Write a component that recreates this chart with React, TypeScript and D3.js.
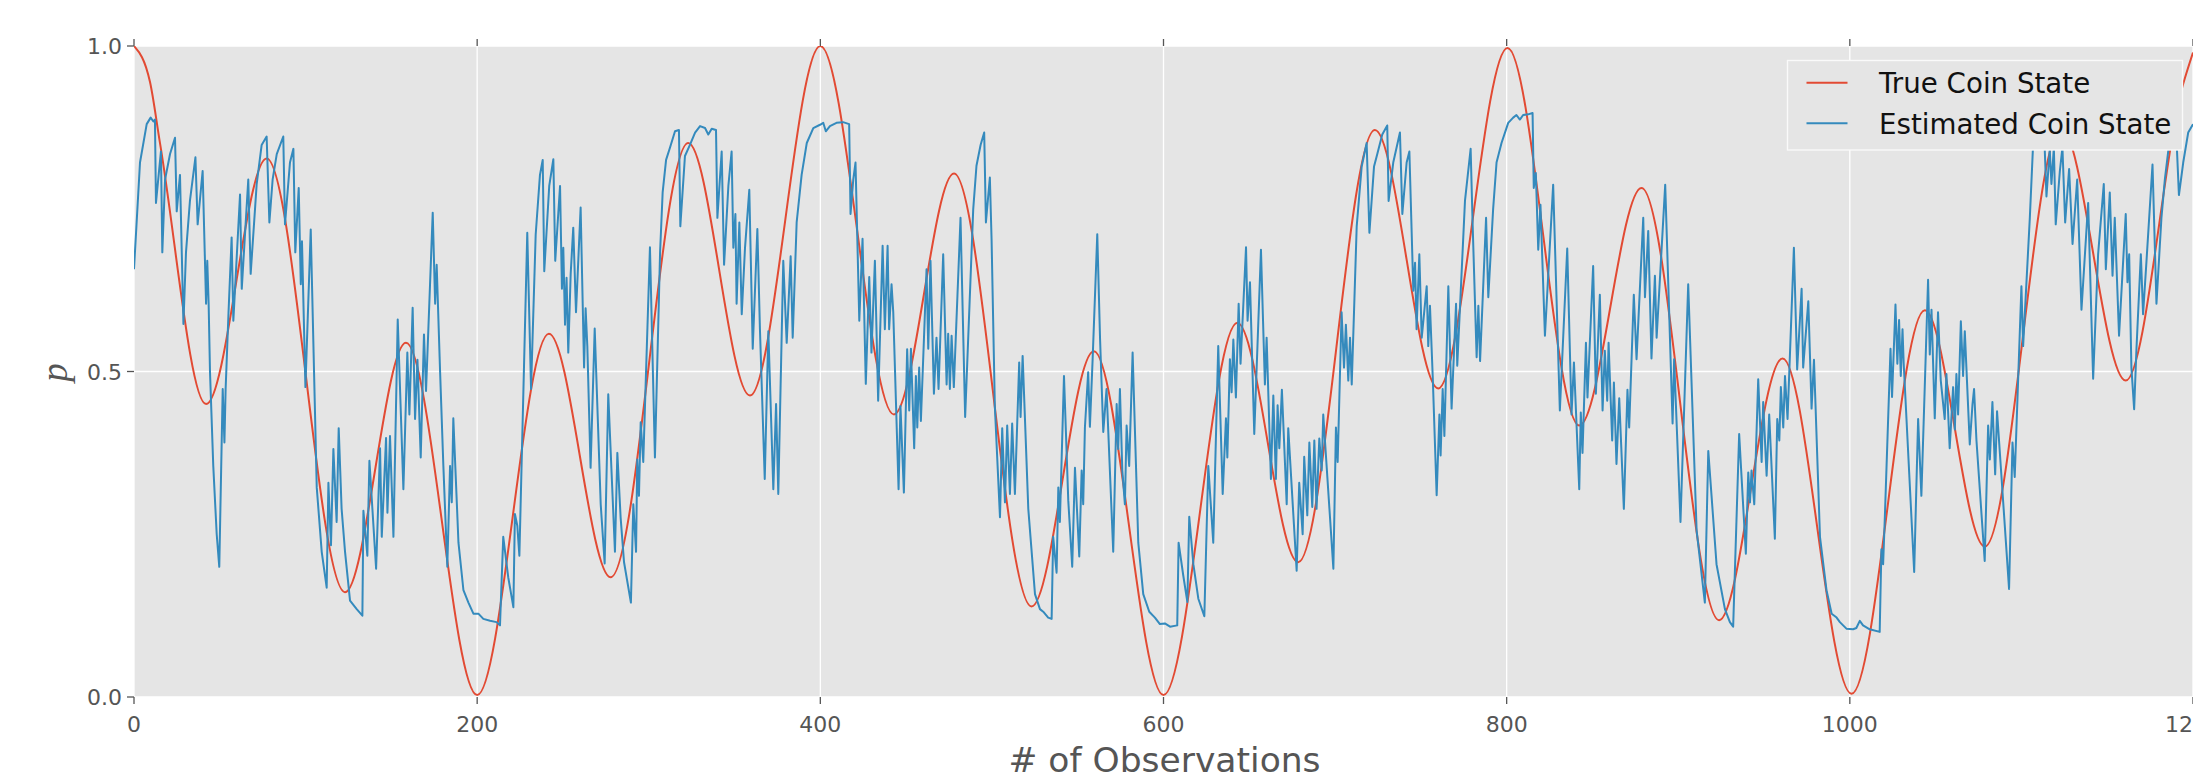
import React from 'react';
import * as d3 from 'd3';

// axis ticks
const xTicks = [0, 200, 400, 600, 800, 1000, 1200];
const xTickLabels = ['0', '200', '400', '600', '800', '1000', '1200'];
const yTicks = [0, 0.5, 1.0];
const yTickLabels = ['0.0', '0.5', '1.0'];

const trueCoin = [
  [0, 1.0], [9.3, 0.945], [15.2, 0.85], [42, 0.45], [77.3, 0.827], [123, 0.161], [158.5, 0.544],
  [200, 0.003], [241.8, 0.558], [277.8, 0.184], [323, 0.851], [359, 0.463],
  [400, 1.0], [442.9, 0.434], [477.9, 0.804], [523.1, 0.139], [559.4, 0.531],
  [600, 0.003], [643, 0.575], [678.5, 0.207], [723.2, 0.871], [760.1, 0.474],
  [800.5, 0.997], [842.3, 0.417], [878.6, 0.782], [923.8, 0.118], [960.8, 0.52],
  [1001, 0.005], [1043.7, 0.594], [1078.7, 0.231], [1123, 0.875], [1160.8, 0.486],
  [1194.3, 0.942], [1200, 0.99],
];

// estimated coin state, split in blocks of ~200 observations
const est0 = [
  [0, 0.657], [3.5, 0.821], [7.4, 0.88], [9.7, 0.89], [11.3, 0.884], [12.2, 0.887], [12.8, 0.759],
  [15.7, 0.838], [16.5, 0.683], [18.1, 0.795], [21, 0.834], [23.9, 0.859], [24.9, 0.746], [26.8, 0.802],
  [28.8, 0.573], [30.3, 0.683], [32.6, 0.762], [35.8, 0.829], [37.1, 0.726], [40, 0.808], [42, 0.604],
  [42.7, 0.67], [43.5, 0.604], [44.3, 0.499], [46.2, 0.355], [48.2, 0.25], [49.7, 0.2], [51.7, 0.473],
  [52.7, 0.391], [53.4, 0.473], [55, 0.585], [56.9, 0.706], [57.9, 0.578], [61.8, 0.772], [62.8, 0.627],
  [66.6, 0.795], [68, 0.65], [71.5, 0.788], [74.4, 0.848], [77.3, 0.861], [78.9, 0.729], [80.8, 0.795],
  [83.2, 0.834], [87, 0.861], [88, 0.726], [90.9, 0.821], [92.9, 0.842], [94, 0.683], [96, 0.782],
  [97.2, 0.634], [97.9, 0.7], [99.9, 0.476], [103, 0.718], [106.5, 0.322], [109.4, 0.223], [112.3, 0.168],
  [113.3, 0.329], [114.8, 0.233], [116.2, 0.381], [118.1, 0.269], [119.3, 0.413], [121, 0.289], [123, 0.223],
  [125.9, 0.148], [129.8, 0.135], [133.1, 0.125], [133.7, 0.286], [136, 0.217], [137.2, 0.363], [141.1, 0.197],
  [143.4, 0.382], [144.4, 0.246], [146.9, 0.398], [147.7, 0.283], [149.2, 0.401], [151.2, 0.246], [153.7, 0.58],
  [157, 0.319], [159.3, 0.529], [160.5, 0.434], [162.4, 0.598], [163.8, 0.427], [165.2, 0.518], [167.1, 0.368],
  [169, 0.557], [170.2, 0.47], [174.1, 0.744], [175.5, 0.604], [176.4, 0.664], [178.4, 0.499], [180.3, 0.355],
  [182.6, 0.2], [184.2, 0.355], [185.2, 0.299], [186.1, 0.428], [189.1, 0.237], [192, 0.164], [194.9, 0.145],
  [197.8, 0.128],
];
const est200 = [
  [200.7, 0.128], [203.6, 0.12], [207.5, 0.117], [211.3, 0.115], [213.3, 0.11], [215.2, 0.246], [218.1, 0.184],
  [221.1, 0.138], [222, 0.281], [223.4, 0.263], [224.6, 0.217], [229.2, 0.713], [231.4, 0.473], [234.1, 0.71],
  [236.6, 0.802], [238.2, 0.825], [239.1, 0.654], [242, 0.785], [244.4, 0.826], [245.5, 0.67], [248.3, 0.785],
  [249.4, 0.627], [250.2, 0.69], [251.2, 0.572], [252.1, 0.644], [253.1, 0.529], [254.5, 0.65], [256, 0.721],
  [257.6, 0.591], [260.3, 0.752], [262.3, 0.506], [263.2, 0.597], [264.2, 0.539], [266.1, 0.352], [268.5, 0.566],
  [272, 0.296], [274.3, 0.205], [276.4, 0.465], [280.3, 0.223], [281.7, 0.375], [283.6, 0.276], [285.6, 0.207],
  [289.6, 0.145], [291, 0.296], [292.6, 0.223], [293.3, 0.365], [294.3, 0.309], [295.3, 0.422], [296.8, 0.361],
  [297.8, 0.447], [300.7, 0.691], [303.6, 0.368], [306.6, 0.683], [308.1, 0.775], [310.1, 0.825], [312.4, 0.844],
  [315.3, 0.869], [317.6, 0.871], [318.4, 0.723], [321.1, 0.831], [324, 0.848], [327, 0.867], [329.9, 0.877],
  [332.8, 0.874], [334.7, 0.864], [336.7, 0.873], [339.2, 0.871], [340, 0.736], [342.5, 0.838], [343.9, 0.664],
  [346.4, 0.785], [348.3, 0.838], [349.3, 0.69], [350.5, 0.742], [351.2, 0.604], [352.8, 0.729], [354.2, 0.588],
  [356.1, 0.69], [358.6, 0.779], [360.6, 0.535], [363.3, 0.719], [364.8, 0.565], [367.6, 0.335], [369.7, 0.562],
  [372.6, 0.319], [374.2, 0.45], [375.5, 0.312], [378.4, 0.67], [380.4, 0.544], [382.7, 0.677], [383.9, 0.552],
  [386.2, 0.729], [389.1, 0.802], [392.1, 0.851], [395.9, 0.874],
];
const est400 = [
  [399.8, 0.879], [401.7, 0.882], [403.2, 0.869], [405.6, 0.877], [409.4, 0.882], [413.3, 0.883], [416.8, 0.88],
  [417.6, 0.742], [419.2, 0.795], [420.5, 0.821], [422.7, 0.578], [424.6, 0.704], [426.5, 0.481], [428.5, 0.645],
  [429.8, 0.529], [431.8, 0.67], [433.7, 0.455], [436.3, 0.693], [437.6, 0.565], [439.2, 0.693], [440.1, 0.565],
  [441.5, 0.634], [442.5, 0.591], [445.6, 0.319], [446.7, 0.447], [448.7, 0.314], [450.6, 0.534], [451.8, 0.44],
  [452.8, 0.535], [454.7, 0.382], [455.7, 0.493], [456.5, 0.414], [457.6, 0.506], [458.6, 0.424], [461.9, 0.657],
  [462.9, 0.535], [464.2, 0.67], [466.2, 0.466], [467.7, 0.552], [468.9, 0.473], [471.6, 0.68], [473.6, 0.48],
  [474.5, 0.558], [475.5, 0.473], [476.5, 0.555], [477.8, 0.476], [481.7, 0.736], [484.4, 0.43], [489.1, 0.749],
  [491, 0.816], [493.4, 0.848], [495.5, 0.867], [496.5, 0.729], [498.8, 0.798], [499.8, 0.703], [501.7, 0.447],
  [504.7, 0.276], [506, 0.413], [507.6, 0.299], [508.9, 0.417], [510.5, 0.312], [511.8, 0.42], [513.4, 0.312],
  [515.9, 0.514], [516.7, 0.43], [517.9, 0.524], [521.2, 0.289], [525.1, 0.158], [528, 0.135], [529.9, 0.131],
  [532.8, 0.122], [534.8, 0.12], [535.7, 0.246], [537.7, 0.191], [538.7, 0.322], [539.6, 0.269], [542, 0.493],
  [544.5, 0.302], [546.8, 0.2], [548.4, 0.352], [550.9, 0.216], [552.3, 0.348], [553.2, 0.296], [554.2, 0.414],
  [556.1, 0.499], [557.1, 0.415], [558.7, 0.519], [561.4, 0.711], [563, 0.552], [564.9, 0.407], [566.8, 0.473],
  [570.7, 0.223], [572.7, 0.45], [573.6, 0.381], [574.6, 0.473], [576, 0.348], [577.5, 0.296], [578.5, 0.417],
  [580, 0.355], [582, 0.529], [585.3, 0.237], [588.2, 0.158], [591.7, 0.131], [595, 0.122], [597.9, 0.112],
];
const est600 = [
  [600.8, 0.113], [603.8, 0.108], [608, 0.11], [608.8, 0.237], [611.5, 0.187], [613.9, 0.146], [615, 0.277],
  [617.4, 0.204], [620.3, 0.151], [623.8, 0.124], [626.1, 0.355], [629, 0.237], [631.9, 0.539], [634.5, 0.312],
  [636.4, 0.428], [637.2, 0.368], [638.7, 0.519], [639.7, 0.468], [640.7, 0.549], [642.2, 0.46], [643.8, 0.604],
  [644.9, 0.512], [648.1, 0.691], [649, 0.578], [650.4, 0.637], [652.9, 0.404], [656.8, 0.687], [659.1, 0.48],
  [660.1, 0.552], [662.6, 0.335], [664, 0.463], [665.5, 0.335], [666.5, 0.448], [667.5, 0.382], [669, 0.472],
  [671.8, 0.296], [672.7, 0.413], [677.6, 0.194], [679.1, 0.329], [681.1, 0.25], [682, 0.369], [683.8, 0.279],
  [685, 0.391], [686.7, 0.292], [687.9, 0.394], [689.2, 0.289], [690.8, 0.397], [692.2, 0.348], [693.1, 0.434],
  [699, 0.197], [700.5, 0.414], [701.5, 0.361], [703.8, 0.591], [705.2, 0.506], [706.3, 0.572], [707.7, 0.486],
  [708.7, 0.552], [709.7, 0.48], [712.6, 0.723], [715.5, 0.815], [718.4, 0.851], [720, 0.713], [722.7, 0.815],
  [724.6, 0.834], [727.5, 0.864], [730.4, 0.878], [731.2, 0.762], [733.9, 0.821], [737.8, 0.867], [739.2, 0.742],
  [741.7, 0.821], [743.3, 0.838], [745.6, 0.624], [746.6, 0.667], [747.5, 0.565], [749.1, 0.68], [750.5, 0.552],
  [753.4, 0.631], [754.3, 0.539], [755.3, 0.601], [756.9, 0.493], [759.2, 0.31], [760.8, 0.434], [761.5, 0.371],
  [762.7, 0.473], [763.7, 0.401], [766, 0.631], [767.9, 0.443], [770.5, 0.604], [771.2, 0.509], [775.7, 0.762],
  [779, 0.842], [780.2, 0.723], [782.5, 0.522], [783.5, 0.601], [784.5, 0.516], [788, 0.736], [789.3, 0.614],
  [792.1, 0.749], [794.1, 0.821],
];
const est800 = [
  [797, 0.851], [800.9, 0.882], [803.8, 0.89], [805.7, 0.894], [807.7, 0.887], [809.6, 0.894], [812.5, 0.895],
  [815.1, 0.897], [815.8, 0.782], [817, 0.805], [818.4, 0.687], [819.7, 0.756], [822.3, 0.555], [827.1, 0.787],
  [831, 0.44], [835.3, 0.689], [837.8, 0.434], [839.2, 0.514], [842.3, 0.319], [843.2, 0.437], [844.2, 0.375],
  [846.2, 0.544], [847.1, 0.46], [850.4, 0.662], [852, 0.466], [854.3, 0.618], [855.9, 0.44], [857.2, 0.532],
  [858.6, 0.455], [859.4, 0.544], [861.5, 0.394], [862.5, 0.483], [864, 0.358], [865.6, 0.459], [868.3, 0.289],
  [870.4, 0.472], [871.4, 0.414], [874.1, 0.618], [875.7, 0.519], [879.6, 0.736], [880.6, 0.614], [882.5, 0.716],
  [884.4, 0.52], [886.4, 0.647], [887.4, 0.552], [892.4, 0.787], [896.7, 0.42], [897.6, 0.519], [901.3, 0.269],
  [905.8, 0.634], [910.7, 0.256], [915.5, 0.145], [917.5, 0.378], [922.3, 0.204], [927.2, 0.135], [930.1, 0.115],
  [932, 0.108], [935.5, 0.404], [939.4, 0.22], [940.8, 0.345], [941.8, 0.299], [942.7, 0.348], [944.3, 0.296],
  [946.6, 0.488], [948.6, 0.361], [949.5, 0.453], [951.5, 0.34], [953, 0.434], [956.3, 0.243], [957.7, 0.427],
  [958.9, 0.394], [959.8, 0.476], [961.2, 0.414], [962.2, 0.493], [963.7, 0.427], [967.4, 0.69], [969.3, 0.503],
  [971.9, 0.627], [972.8, 0.506], [975.8, 0.608], [977.7, 0.443], [979.1, 0.518], [982.6, 0.246], [986.4, 0.164],
  [989.4, 0.128], [992.3, 0.122], [994.2, 0.115], [998, 0.105],
];
const est1000 = [
  [1001.9, 0.104], [1003.8, 0.106], [1005.8, 0.117], [1007.7, 0.11], [1011.6, 0.104], [1017.4, 0.1],
  [1018.4, 0.227], [1019.4, 0.204], [1020.4, 0.276], [1023.7, 0.535], [1024.6, 0.461], [1026.6, 0.603],
  [1027.7, 0.512], [1028.7, 0.579], [1029.7, 0.493], [1030.7, 0.565], [1031.4, 0.512], [1037.5, 0.192],
  [1039.8, 0.427], [1041.7, 0.309], [1045.6, 0.641], [1046.6, 0.526], [1047.6, 0.595], [1049.5, 0.428],
  [1051.4, 0.591], [1053, 0.486], [1055.3, 0.427], [1056.3, 0.496], [1058.2, 0.382], [1060.2, 0.476],
  [1061.2, 0.411], [1062.1, 0.496], [1063.1, 0.434], [1064.7, 0.577], [1066, 0.493], [1067, 0.562],
  [1069.9, 0.388], [1071.5, 0.45], [1072.4, 0.473], [1073.8, 0.394], [1078.6, 0.209], [1080.6, 0.417],
  [1081.6, 0.365], [1083.1, 0.453], [1084.7, 0.342], [1085.8, 0.439], [1092.8, 0.166], [1094.8, 0.391],
  [1096.1, 0.338], [1100, 0.631], [1101, 0.539], [1104.9, 0.736], [1107, 0.86], [1109, 0.88], [1111, 0.885],
  [1113.6, 0.841], [1114.6, 0.769], [1116.5, 0.841], [1117.5, 0.788], [1118.9, 0.844], [1120, 0.726],
  [1122.4, 0.808], [1123.9, 0.844], [1125.5, 0.729], [1127.8, 0.811], [1129.8, 0.696], [1132.5, 0.795],
  [1135, 0.595], [1138.9, 0.759], [1141.8, 0.489], [1144.7, 0.68], [1148, 0.788], [1149.2, 0.657],
  [1151.5, 0.775], [1153.1, 0.647], [1154.4, 0.736], [1155.8, 0.634], [1156.9, 0.555], [1160.8, 0.742],
  [1161.8, 0.637], [1162.8, 0.68], [1164.1, 0.506], [1165.7, 0.442], [1167, 0.532], [1169.6, 0.68],
  [1170.9, 0.588], [1172.9, 0.67], [1176.4, 0.818], [1178.7, 0.604], [1181.6, 0.736], [1183.6, 0.795],
  [1187, 0.87], [1190, 0.88], [1191.8, 0.771], [1194.3, 0.821], [1197.2, 0.867], [1200, 0.88],
];

const legendItems = [
  { label: 'True Coin State', color: '#E24A33' },
  { label: 'Estimated Coin State', color: '#348ABD' },
];

const Width = 2193;
const Height = 776;
const margin = { top: 46, right: 0, bottom: 79, left: 134 };
const chartWidth = Width - margin.left - margin.right;
const chartHeight = Height - margin.top - margin.bottom;
const font = '"DejaVu Sans", sans-serif';

export default function App() {
  const xScale = d3.scaleLinear().domain([0, 1200]).range([0, chartWidth]);
  const yScale = d3.scaleLinear().domain([0, 1]).range([chartHeight, 0]);

  const estimated = [...est0, ...est200, ...est400, ...est600, ...est800, ...est1000];

  const estLine = d3.line<number[]>()
    .x((d) => xScale(d[0]))
    .y((d) => yScale(d[1]));
  const trueLine = d3.line<number[]>()
    .x((d) => xScale(d[0]))
    .y((d) => yScale(d[1]))
    .curve(d3.curveMonotoneX);

  return (
    <svg width={Width} height={Height} style={{ position: 'absolute', left: 0, top: 0, display: 'block' }}>
      <defs>
        <clipPath id="plotClip">
          <rect x={0} y={0} width={chartWidth} height={chartHeight} />
        </clipPath>
      </defs>
      <g transform={`translate(${margin.left}, ${margin.top})`}>
        <rect x={0} y={0} width={chartWidth} height={chartHeight} fill="#E5E5E5" />

        {/* grid */}
        {xTicks.map((t) => (
          <line key={'gx' + t} x1={xScale(t)} x2={xScale(t)} y1={0} y2={chartHeight} stroke="#fff" strokeWidth={1.3} />
        ))}
        {yTicks.map((t) => (
          <line key={'gy' + t} x1={0} x2={chartWidth} y1={yScale(t)} y2={yScale(t)} stroke="#fff" strokeWidth={1.3} />
        ))}

        <g clipPath="url(#plotClip)">
          <path d={trueLine(trueCoin) ?? ''} fill="none" stroke="#E24A33" strokeWidth={2} />
          <path d={estLine(estimated) ?? ''} fill="none" stroke="#348ABD" strokeWidth={2} strokeLinejoin="round" />
        </g>

        {/* x ticks, bottom and top */}
        {xTicks.map((t, i) => (
          <g key={'tx' + t}>
            <line x1={xScale(t)} x2={xScale(t)} y1={chartHeight} y2={chartHeight + 7} stroke="#555" strokeWidth={1.3} />
            <line x1={xScale(t)} x2={xScale(t)} y1={-7} y2={0} stroke="#555" strokeWidth={1.3} />
            <text x={xScale(t)} y={chartHeight + 35} textAnchor="middle" fill="#555"
              style={{ fontFamily: font, fontSize: '22px' }}>
              {xTickLabels[i]}
            </text>
          </g>
        ))}

        {/* y ticks */}
        {yTicks.map((t, i) => (
          <g key={'ty' + t}>
            <line x1={-7} x2={0} y1={yScale(t)} y2={yScale(t)} stroke="#555" strokeWidth={1.3} />
            <text x={-12} y={yScale(t) + 8} textAnchor="end" fill="#555"
              style={{ fontFamily: font, fontSize: '22px' }}>
              {yTickLabels[i]}
            </text>
          </g>
        ))}

        {/* axis labels */}
        <text x={chartWidth / 2 + 1} y={chartHeight + 75} textAnchor="middle" fill="#555"
          style={{ fontFamily: font, fontSize: '34.5px' }}>
          # of Observations
        </text>
        <text transform={`translate(-67, ${chartHeight / 2 + 1}) rotate(-90)`} textAnchor="middle" fill="#555"
          style={{ fontFamily: '"Liberation Serif", "DejaVu Serif", serif', fontStyle: 'italic', fontSize: '37px' }}>
          p
        </text>

        {/* legend */}
        <g transform={`translate(${1787.5 - margin.left}, ${60.5 - margin.top})`}>
          <rect x={0} y={0} width={395} height={89.5} fill="#E5E5E5" stroke="#fafafa" strokeWidth={1.3} />
          {legendItems.map((d, i) => (
            <g key={d.label} transform={`translate(0, ${22.2 + i * 40.6})`}>
              <line x1={19} x2={60} y1={0} y2={0} stroke={d.color} strokeWidth={2} />
              <text x={91.5} y={10.3} fill="#111" style={{ fontFamily: font, fontSize: '27.7px' }}>
                {d.label}
              </text>
            </g>
          ))}
        </g>
      </g>
    </svg>
  );
}
